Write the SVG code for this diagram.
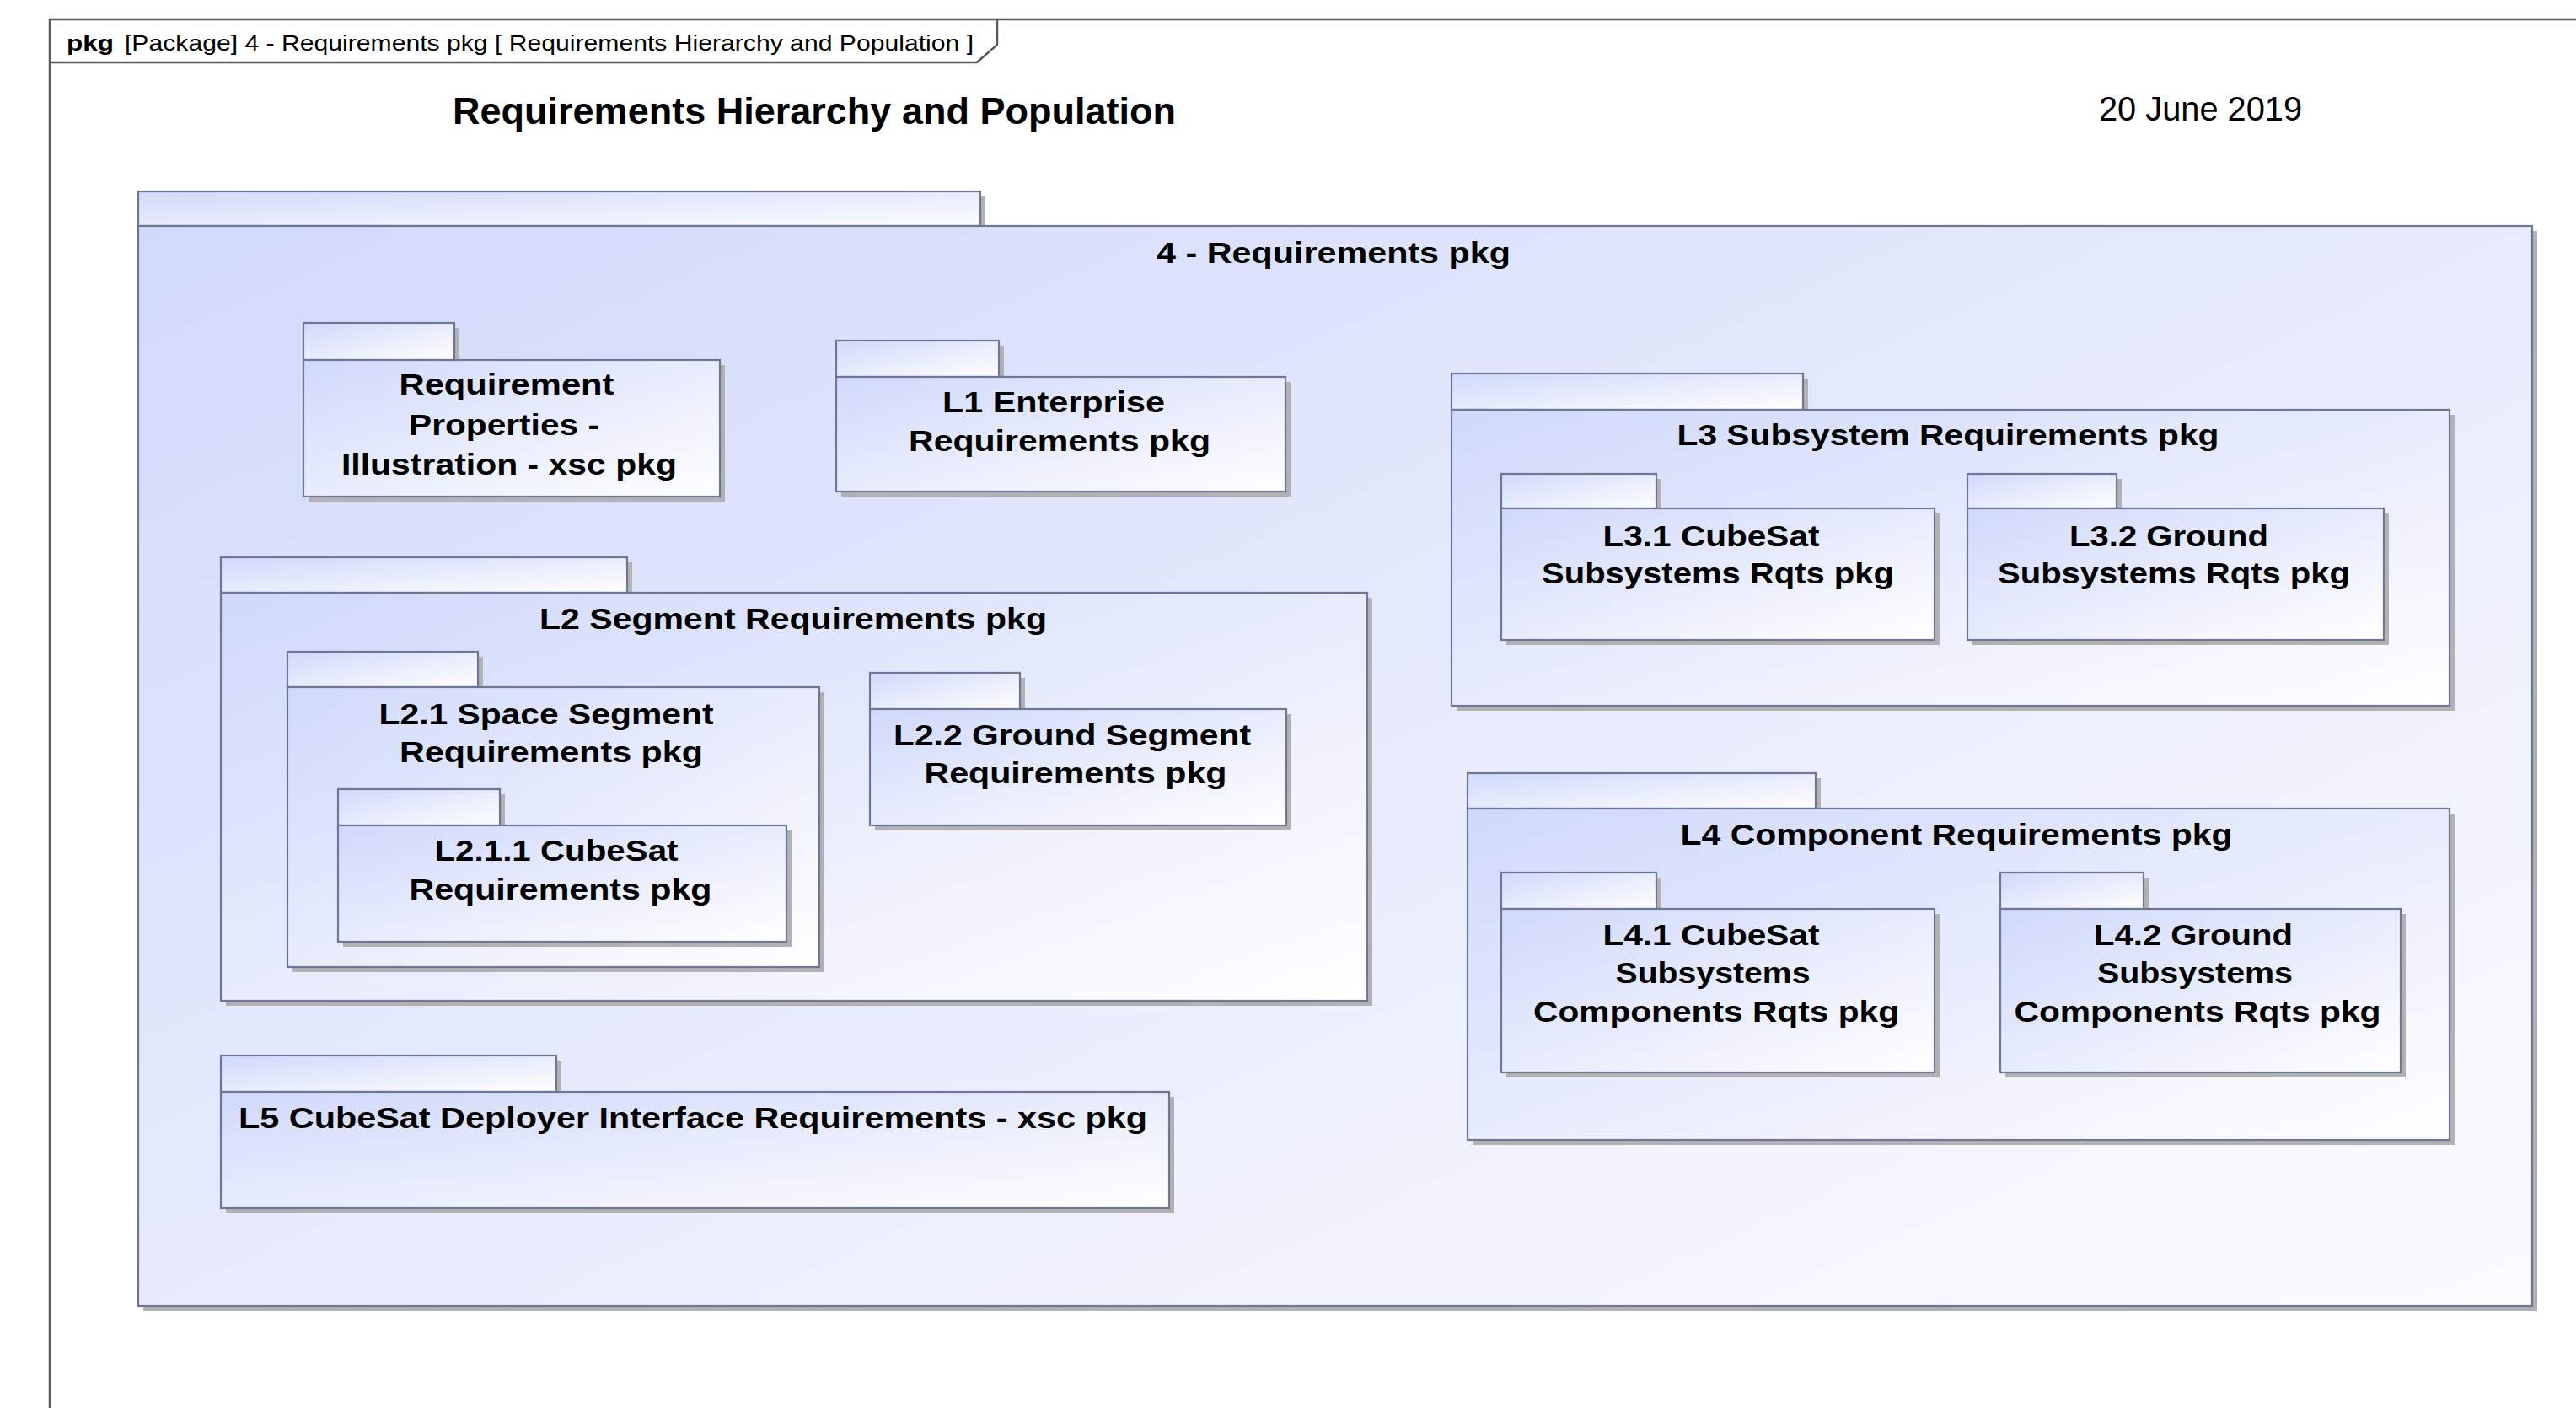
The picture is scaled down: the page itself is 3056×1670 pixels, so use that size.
<svg xmlns="http://www.w3.org/2000/svg" width="3056" height="1670" viewBox="0 0 3056 1670">
  <defs>
    <linearGradient id="pkgFill" x1="0" y1="0" x2="1" y2="1">
      <stop offset="0" stop-color="#d0d9fa"/>
      <stop offset="1" stop-color="#ffffff"/>
    </linearGradient>
    <linearGradient id="mainFill" x1="0" y1="0" x2="1" y2="1">
      <stop offset="0" stop-color="#d2dafa"/>
      <stop offset="1" stop-color="#fcfcff"/>
    </linearGradient>
  </defs>
  <style>
    .frame { fill: none; stroke: #5a5a5a; stroke-width: 2.5; }
    .shadow { fill: #b2b2b2; }
    .pkg { fill: url(#pkgFill); stroke: #6f7799; stroke-width: 2.2; }
    .main { fill: url(#mainFill); stroke: #6f7799; stroke-width: 2.2; }
    .lbl { font-family: "Liberation Sans", Arial, sans-serif; font-weight: bold; font-size: 35px; fill: #000; text-anchor: middle; }
    .hdr { font-family: "Liberation Sans", Arial, sans-serif; font-size: 26px; fill: #000; }
  </style>

  <rect width="3056" height="1670" fill="#ffffff"/>

  <!-- diagram frame with its name tab -->
  <g id="frame">
    <path class="frame" d="M59,1672 V23 H3058"/>
    <path class="frame" d="M59,74 H1159 L1183,53 V23"/>
    <text class="hdr" x="79" y="60" font-weight="bold" textLength="56" lengthAdjust="spacingAndGlyphs">pkg</text>
    <text class="hdr" x="148" y="60" textLength="1007" lengthAdjust="spacingAndGlyphs">[Package] 4 - Requirements pkg [ Requirements Hierarchy and Population ]</text>
  </g>

  <g id="title">
    <text x="537" y="147" font-family="'Liberation Sans', Arial, sans-serif" font-weight="bold" font-size="45" textLength="858" lengthAdjust="spacingAndGlyphs">Requirements Hierarchy and Population</text>
    <text x="2490" y="143" font-family="'Liberation Sans', Arial, sans-serif" font-size="40" textLength="241" lengthAdjust="spacingAndGlyphs">20 June 2019</text>
  </g>

  <!-- outer package -->
  <g id="pkg-4-requirements">
    <path class="shadow" d="M170,233 H1169 V274 H3010 V1555 H170 Z"/>
    <rect class="main" x="164" y="227" width="999" height="41"/>
    <rect class="main" x="164" y="268" width="2840" height="1281"/>
    <text class="lbl" x="1582" y="312" textLength="420" lengthAdjust="spacingAndGlyphs">4 - Requirements pkg</text>
  </g>

  <g id="pkg-requirement-properties">
    <path class="shadow" d="M366,389 H545 V433 H860 V595 H366 Z"/>
    <rect class="pkg" x="360" y="383" width="179" height="44"/>
    <rect class="pkg" x="360" y="427" width="494" height="162"/>
    <text class="lbl" x="601" y="468" textLength="255" lengthAdjust="spacingAndGlyphs">Requirement</text>
    <text class="lbl" x="598" y="516" textLength="226" lengthAdjust="spacingAndGlyphs">Properties -</text>
    <text class="lbl" x="604" y="563" textLength="398" lengthAdjust="spacingAndGlyphs">Illustration - xsc pkg</text>
  </g>

  <g id="pkg-l1">
    <path class="shadow" d="M998,410 H1191 V453 H1531 V589 H998 Z"/>
    <rect class="pkg" x="992" y="404" width="193" height="43"/>
    <rect class="pkg" x="992" y="447" width="533" height="136"/>
    <text class="lbl" x="1250" y="489" textLength="264" lengthAdjust="spacingAndGlyphs">L1 Enterprise</text>
    <text class="lbl" x="1257" y="535" textLength="358" lengthAdjust="spacingAndGlyphs">Requirements pkg</text>
  </g>

  <g id="pkg-l2">
    <path class="shadow" d="M268,667 H750 V709 H1628 V1193 H268 Z"/>
    <rect class="pkg" x="262" y="661" width="482" height="42"/>
    <rect class="pkg" x="262" y="703" width="1360" height="484"/>
    <text class="lbl" x="941" y="746" textLength="602" lengthAdjust="spacingAndGlyphs">L2 Segment Requirements pkg</text>
  </g>

  <g id="pkg-l2-1">
    <path class="shadow" d="M347,779 H573 V821 H978 V1153 H347 Z"/>
    <rect class="pkg" x="341" y="773" width="226" height="42"/>
    <rect class="pkg" x="341" y="815" width="631" height="332"/>
    <text class="lbl" x="648" y="859" textLength="397" lengthAdjust="spacingAndGlyphs">L2.1 Space Segment</text>
    <text class="lbl" x="654" y="904" textLength="360" lengthAdjust="spacingAndGlyphs">Requirements pkg</text>
  </g>

  <g id="pkg-l2-1-1">
    <path class="shadow" d="M407,942 H599 V985 H939 V1123 H407 Z"/>
    <rect class="pkg" x="401" y="936" width="192" height="43"/>
    <rect class="pkg" x="401" y="979" width="532" height="138"/>
    <text class="lbl" x="660" y="1021" textLength="289" lengthAdjust="spacingAndGlyphs">L2.1.1 CubeSat</text>
    <text class="lbl" x="665" y="1067" textLength="359" lengthAdjust="spacingAndGlyphs">Requirements pkg</text>
  </g>

  <g id="pkg-l2-2">
    <path class="shadow" d="M1038,804 H1216 V847 H1532 V985 H1038 Z"/>
    <rect class="pkg" x="1032" y="798" width="178" height="43"/>
    <rect class="pkg" x="1032" y="841" width="494" height="138"/>
    <text class="lbl" x="1272" y="884" textLength="424" lengthAdjust="spacingAndGlyphs">L2.2 Ground Segment</text>
    <text class="lbl" x="1276" y="929" textLength="359" lengthAdjust="spacingAndGlyphs">Requirements pkg</text>
  </g>

  <g id="pkg-l3">
    <path class="shadow" d="M1728,449 H2145 V492 H2912 V843 H1728 Z"/>
    <rect class="pkg" x="1722" y="443" width="417" height="43"/>
    <rect class="pkg" x="1722" y="486" width="1184" height="351"/>
    <text class="lbl" x="2311" y="528" textLength="643" lengthAdjust="spacingAndGlyphs">L3 Subsystem Requirements pkg</text>
  </g>

  <g id="pkg-l3-1">
    <path class="shadow" d="M1787,568 H1971 V609 H2301 V765 H1787 Z"/>
    <rect class="pkg" x="1781" y="562" width="184" height="41"/>
    <rect class="pkg" x="1781" y="603" width="514" height="156"/>
    <text class="lbl" x="2030" y="648" textLength="257" lengthAdjust="spacingAndGlyphs">L3.1 CubeSat</text>
    <text class="lbl" x="2038" y="692" textLength="418" lengthAdjust="spacingAndGlyphs">Subsystems Rqts pkg</text>
  </g>

  <g id="pkg-l3-2">
    <path class="shadow" d="M2340,568 H2517 V609 H2834 V765 H2340 Z"/>
    <rect class="pkg" x="2334" y="562" width="177" height="41"/>
    <rect class="pkg" x="2334" y="603" width="494" height="156"/>
    <text class="lbl" x="2573" y="648" textLength="236" lengthAdjust="spacingAndGlyphs">L3.2 Ground</text>
    <text class="lbl" x="2579" y="692" textLength="418" lengthAdjust="spacingAndGlyphs">Subsystems Rqts pkg</text>
  </g>

  <g id="pkg-l4">
    <path class="shadow" d="M1747,923 H2160 V965 H2912 V1358 H1747 Z"/>
    <rect class="pkg" x="1741" y="917" width="413" height="42"/>
    <rect class="pkg" x="1741" y="959" width="1165" height="393"/>
    <text class="lbl" x="2321" y="1002" textLength="655" lengthAdjust="spacingAndGlyphs">L4 Component Requirements pkg</text>
  </g>

  <g id="pkg-l4-1">
    <path class="shadow" d="M1787,1041 H1971 V1084 H2301 V1278 H1787 Z"/>
    <rect class="pkg" x="1781" y="1035" width="184" height="43"/>
    <rect class="pkg" x="1781" y="1078" width="514" height="194"/>
    <text class="lbl" x="2030" y="1121" textLength="257" lengthAdjust="spacingAndGlyphs">L4.1 CubeSat</text>
    <text class="lbl" x="2032" y="1166" textLength="231" lengthAdjust="spacingAndGlyphs">Subsystems</text>
    <text class="lbl" x="2036" y="1212" textLength="434" lengthAdjust="spacingAndGlyphs">Components Rqts pkg</text>
  </g>

  <g id="pkg-l4-2">
    <path class="shadow" d="M2379,1041 H2549 V1084 H2854 V1278 H2379 Z"/>
    <rect class="pkg" x="2373" y="1035" width="170" height="43"/>
    <rect class="pkg" x="2373" y="1078" width="475" height="194"/>
    <text class="lbl" x="2602" y="1121" textLength="236" lengthAdjust="spacingAndGlyphs">L4.2 Ground</text>
    <text class="lbl" x="2604" y="1166" textLength="232" lengthAdjust="spacingAndGlyphs">Subsystems</text>
    <text class="lbl" x="2607" y="1212" textLength="435" lengthAdjust="spacingAndGlyphs">Components Rqts pkg</text>
  </g>

  <g id="pkg-l5">
    <path class="shadow" d="M268,1258 H666 V1301 H1393 V1439 H268 Z"/>
    <rect class="pkg" x="262" y="1252" width="398" height="43"/>
    <rect class="pkg" x="262" y="1295" width="1125" height="138"/>
    <text class="lbl" x="822" y="1338" textLength="1078" lengthAdjust="spacingAndGlyphs">L5 CubeSat Deployer Interface Requirements - xsc pkg</text>
  </g>
</svg>
